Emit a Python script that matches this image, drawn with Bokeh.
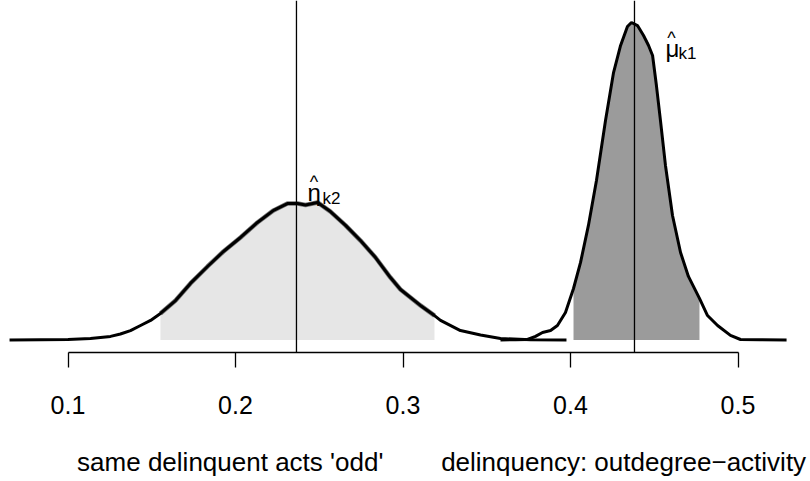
from bokeh.plotting import figure
from bokeh.models import Range1d, Span, Label, FixedTicker
from bokeh.embed import file_html
from bokeh.resources import INLINE

# ---------------- data ----------------
# posterior density of the 'same delinquent acts odd' parameter (eta_k2)
eta_x = [0.0651, 0.0836, 0.1000, 0.1134, 0.1254, 0.1313, 0.1373, 0.1433, 0.1493,
         0.1552, 0.1642, 0.1731, 0.1833, 0.1928, 0.2030, 0.2131, 0.2227, 0.2310,
         0.2370, 0.2418, 0.2490, 0.2567, 0.2657, 0.2746, 0.2836, 0.2925, 0.2985,
         0.3104, 0.3188, 0.3224, 0.3343, 0.3463, 0.3582, 0.3761, 0.3976]
eta_y = [0.00, 0.02, 0.03, 0.09, 0.22, 0.37, 0.58, 0.89, 1.20,
         1.63, 2.42, 3.47, 4.51, 5.43, 6.29, 7.21, 7.95, 8.37,
         8.37, 8.28, 8.44, 7.88, 7.03, 6.10, 5.06, 3.83, 3.10,
         2.12, 1.50, 1.20, 0.58, 0.31, 0.09, 0.02, 0.00]
eta_ci = [0.1552, 0.3188]
eta_hat = 0.2364

# posterior density of the 'delinquency: outdegree-activity' parameter (mu_k1)
mu_x = [0.3582, 0.3672, 0.3743, 0.3791, 0.3833, 0.3881, 0.3922, 0.3970, 0.4018,
        0.4060, 0.4107, 0.4155, 0.4209, 0.4257, 0.4299, 0.4340, 0.4364, 0.4400,
        0.4436, 0.4466, 0.4490, 0.4513, 0.4537, 0.4567, 0.4609, 0.4657, 0.4704,
        0.4746, 0.4770, 0.4818, 0.4878, 0.4955, 0.5015, 0.5134, 0.5290]
mu_y = [0.00, 0.02, 0.03, 0.22, 0.46, 0.58, 0.89, 1.69, 3.16,
        4.76, 7.03, 9.79, 13.47, 16.41, 18.07, 19.23, 19.48, 19.29,
        18.68, 18.07, 17.45, 15.61, 13.47, 10.71, 7.64, 5.37, 3.90,
        3.04, 2.55, 1.50, 0.89, 0.28, 0.03, 0.01, 0.00]
mu_ci = [0.4018, 0.4770]
mu_hat = 0.4382

tick_values = [0.1, 0.2, 0.3, 0.4, 0.5]
tick_labels = ["0.1", "0.2", "0.3", "0.4", "0.5"]
param_names = ["same delinquent acts 'odd'", "delinquency: outdegree\u2212activity"]

# ---------------- layout helpers (page pixel -> data) ----------------
def X(px):
    return 0.1 + (px - 67.5) / 1675.0

def Y(py):
    return (339.5 - py) / 16.3

FONT = "Liberation Sans"

p = figure(width=810, height=481, output_backend="svg", toolbar_location=None,
           x_range=Range1d(X(0), X(810)), y_range=Range1d(Y(352), Y(0)),
           y_axis_location=None, min_border=0, min_border_bottom=129)
p.outline_line_color = None
p.grid.visible = False
p.background_fill_color = "white"

ax = p.xaxis[0]
ax.ticker = FixedTicker(ticks=tick_values)
ax.major_label_overrides = {v: s for v, s in zip(tick_values, tick_labels)}
ax.bounds = (tick_values[0], tick_values[-1])
ax.major_tick_out = 15
ax.major_tick_in = 0
ax.minor_tick_line_color = None
ax.axis_line_width = 1.3
ax.major_tick_line_width = 1.3
ax.axis_line_color = "black"
ax.major_tick_line_color = "black"
ax.major_label_text_font = FONT
ax.major_label_text_font_size = "25px"
ax.major_label_text_color = "black"
ax.major_label_standoff = 28

# parameter names below the axis, as one axis title line
nb = "\u00a0"
ax.axis_label = nb * 10 + param_names[0] + nb * 8 + param_names[1]
ax.axis_label_text_font = FONT
ax.axis_label_text_font_size = "26px"
ax.axis_label_text_font_style = "normal"
ax.axis_label_text_color = "black"
ax.axis_label_standoff = 30

# shaded credible intervals
def sub(xs, ys, ci):
    pts = [(a, b) for a, b in zip(xs, ys) if ci[0] <= a <= ci[1]]
    return [a for a, _ in pts], [b for _, b in pts]

ex, ey = sub(eta_x, eta_y, eta_ci)
mx, my = sub(mu_x, mu_y, mu_ci)
p.varea(x=ex, y1=[0] * len(ex), y2=ey, fill_color="#E6E6E6")
p.line(ex, ey, line_color="#777777", line_width=4.5)
p.varea(x=mx, y1=[0] * len(mx), y2=my, fill_color="#9B9B9B")

p.line(eta_x, eta_y, line_color="black", line_width=3)
p.line(mu_x, mu_y, line_color="black", line_width=3)

for v in (eta_hat, mu_hat):
    p.add_layout(Span(location=v, dimension="height", line_color="black", line_width=1.3))

# estimate labels with hats
def lab(txt, x, y, size, align="left"):
    p.add_layout(Label(x=x, y=y, text=txt, text_font=FONT, text_font_size=size,
                       text_color="black", text_align=align, text_baseline="alphabetic"))

lab("\u03b7", X(307), Y(192), "24px")
lab("^", X(313.5), Y(181), "18px", "center")
lab("k2", X(322), Y(198), "17px")

lab("\u03bc", X(665), Y(48), "24px")
lab("^", X(671), Y(37), "18px", "center")
lab("k1", X(678), Y(53), "17px")

open("out.html", "w").write(file_html(p, INLINE))
